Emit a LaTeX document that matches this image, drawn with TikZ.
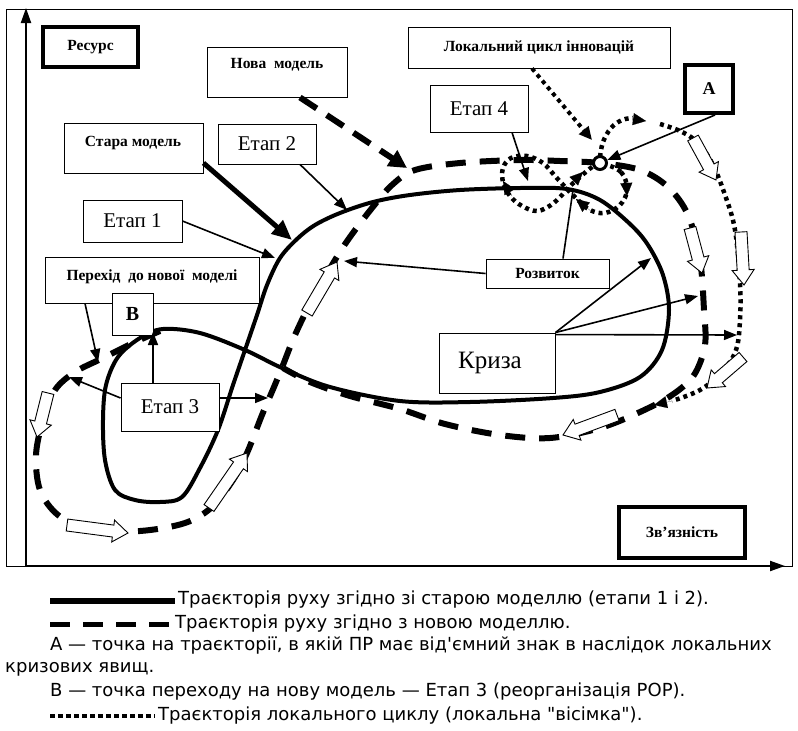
\documentclass[tikz,border=0pt]{standalone}
\usepackage{fontspec}
\setmainfont{Liberation Serif}
\newfontfamily\legfont{DejaVu Sans}
\usetikzlibrary{arrows.meta,calc}

\tikzset{
  box/.style={draw, fill=white, line width=0.9pt, inner sep=0pt, align=center},
  thickbox/.style={box, line width=4pt},
  blab/.style={font=\bfseries\fontsize{15.5}{18}\selectfont},
  etlab/.style={font=\fontsize{21}{24}\selectfont},
  conn/.style={line width=1.6pt, -{Triangle[length=13pt,width=10pt]}},
  solidtraj/.style={line width=4pt, line join=round},
  dashtraj/.style={line width=6pt, dash pattern=on 20pt off 14pt},
  dottraj/.style={line width=4.5pt, dash pattern=on 4pt off 4pt},
  tiphead/.style={line width=0.1pt, -{Triangle[length=13pt,width=12pt]}},
  hollow/.style={draw, fill=white, line width=0.9pt, line join=miter},
  legtext/.style={anchor=west, inner sep=0pt, font=\legfont\fontsize{18}{21}\selectfont},
}

\newcommand\hollowarr[2]{%
  \coordinate (ht) at (#1); \coordinate (hp) at (#2);
  \coordinate (hh) at ($(hp)!15pt!(ht)$);
  \draw[hollow] ($(ht)!6pt!90:(hp)$) -- ($(hh)!6pt!90:(hp)$) -- ($(hh)!11pt!90:(hp)$) -- (hp)
    -- ($(hh)!11pt!-90:(hp)$) -- ($(hh)!6pt!-90:(hp)$) -- ($(ht)!6pt!-90:(hp)$) -- cycle;}

\begin{document}
\begin{tikzpicture}[x=1pt, y=-1pt]
\useasboundingbox (0,0) rectangle (798,731);

% frame and axes
\draw[line width=0.8pt] (6,9) rectangle (792,566);
\coordinate (origin) at (26,566);
\coordinate (ytop) at (26,8);
\coordinate (xend) at (785,566);
\draw[line width=2pt, -{Triangle[length=15pt,width=10pt]}] (origin) -- (ytop);
\draw[line width=2pt, -{Triangle[length=15pt,width=10pt]}] (origin) -- (xend);

% old model trajectory (solid figure eight)
\draw[solidtraj] plot[smooth cycle, tension=0.55] coordinates {
 (163,329) (200,333) (245,350) (282,368) (330,387) (400,401) (470,402) (553,398) (600,392)
 (640,377) (662,350) (669,310) (663,275) (648,245) (630,224) (600,200) (567,189) (520,188)
 (460,190) (410,195) (373,202) (340,213) (315,225) (297,239) (280,258) (267,285) (257,315)
 (245,350) (233,385) (218,430) (200,468) (182,497) (160,502) (135,500) (115,490) (105,460)
 (103,420) (106,385) (118,357) (140,338)};

% new model trajectory (dashed figure eight)
\draw[dashtraj] plot[smooth, tension=0.55] coordinates {
 (160,331) (133,343) (103,358) (75,372) (55,390) (43,420) (36,455) (40,490) (58,515) (90,530)
 (140,531) (185,523) (212,507) (233,480) (247,453) (262,415) (274,387) (283,365) (295,335)
 (312,300) (335,260) (350,237) (372,208) (392,185) (415,170) (460,163) (520,160) (560,161)
 (600,163) (640,170) (668,187) (688,215) (700,260) (704,310) (705,345) (694,375) (672,395)
 (640,412) (600,428) (550,438) (500,435) (445,424) (400,409) (350,396) (310,382) (283,368)};

% local cycle (dotted)
\draw[dottraj] plot[smooth, tension=0.6] coordinates {
 (600,157) (603,142) (611,128) (622,120) (633,118)};
\draw[tiphead] (632,119) -- (646,121);
\draw[dottraj] plot[smooth, tension=0.6] coordinates {
 (660,124) (680,131) (697,142) (712,163) (725,195) (735,230) (740,283) (740,320) (736,350)
 (722,372) (700,390) (672,401)};
\draw[tiphead] (672,401) -- (654,405);
\draw[dottraj] plot[smooth cycle, tension=0.6] coordinates {
 (600,163) (621,172) (627,190) (620,205) (605,213) (590,210) (578,200) (567,189) (555,176)
 (543,163) (527,156) (511,158) (503,168) (503,182) (510,196) (522,206) (537,211) (551,205)
 (562,195) (567,189) (580,177) (592,167)};
\draw[tiphead] (570,185) -- (583,172);
\draw[tiphead] (592,212) -- (576,199);
\draw[tiphead] (626,178) -- (627,196);
\draw[tiphead] (512,196) -- (503,181);

% hollow direction arrows
\hollowarr{67,525}{128,533}
\hollowarr{209,508}{247,453}
\hollowarr{307,313}{337,262}
\hollowarr{48,393}{37,437}
\hollowarr{690,228}{702,273}
\hollowarr{693,138}{716,180}
\hollowarr{741,232}{744,285}
\hollowarr{743,357}{707,388}
\hollowarr{617,415}{563,435}

% boxes
\node[thickbox, blab, minimum width=95pt, minimum height=40pt] (resurs) at (90.5,47) {Ресурс};
\node[box, minimum width=140pt, minimum height=50pt] (nova) at (277,72) {};
\node[blab] at (277,65) {Нова\ \ модель};
\node[box, minimum width=139pt, minimum height=50pt] (stara) at (133.5,148) {};
\node[blab] at (133,143) {Стара модель};
\node[box, etlab, minimum width=98pt, minimum height=40pt] (etap2) at (267,144) {Етап 2};
\node[box, etlab, minimum width=99pt, minimum height=42pt] (etap1) at (132.5,221) {Етап 1};
\node[box, minimum width=214pt, minimum height=46pt] (perehid) at (152,280) {};
\node[blab] at (152,277) {Перехід\ \ до нової\ \ моделі};
\node[box, font=\bfseries\fontsize{20}{22}\selectfont, minimum width=41pt, minimum height=42pt] (bbox) at (132.5,314) {B};
\node[box, etlab, minimum width=98pt, minimum height=48pt] (etap3) at (170,407) {Етап 3};
\node[box, blab, minimum width=262pt, minimum height=41pt] (lokal) at (539,47.5) {Локальний цикл інновацій};
\node[thickbox, font=\bfseries\fontsize{18}{20}\selectfont, minimum width=48pt, minimum height=48pt] (abox) at (709,89) {A};
\node[box, etlab, minimum width=98pt, minimum height=47pt] (etap4) at (479,108.5) {Етап 4};
\node[box, blab, minimum width=123pt, minimum height=29pt] (rozv) at (547.5,273.5) {Розвиток};
\node[box, font=\fontsize{25}{28}\selectfont, minimum width=116pt, minimum height=60pt] (kryza) at (497,363) {\hspace*{-14pt}Криза};
\node[thickbox, blab, minimum width=126pt, minimum height=51pt] (zvyaz) at (682,532.5) {Зв’язність};

% point A
\node[circle, draw, fill=white, line width=3pt, minimum size=13pt, inner sep=0pt] (pA) at (600,163) {};

% connector targets
\coordinate (tst) at (292,240);
\coordinate (te2) at (347,210);
\coordinate (te1) at (275,258);
\coordinate (tnv) at (407,168);
\coordinate (tpe) at (98,362);
\coordinate (tB) at (153,332);
\coordinate (te3l) at (69,377);
\coordinate (te3r) at (268,398);
\coordinate (trl) at (344,261);
\coordinate (tcr) at (573,190);
\coordinate (tk1) at (651,258);
\coordinate (tk2) at (698,296);
\coordinate (tk3) at (737,335);
\coordinate (te4) at (528,181);
\coordinate (tlk) at (592,140);

% connectors
\draw[line width=5pt, -{Triangle[length=20pt,width=17pt]}] ([yshift=-15pt]stara.east) -- (tst);
\draw[conn] ([xshift=33pt]etap2.south) -- (te2);
\draw[conn] (etap1.east) -- (te1);
\draw[line width=6pt, dash pattern=on 20pt off 12pt, -{Triangle[length=18pt,width=18pt]}] ([xshift=23pt]nova.south) -- (tnv);
\draw[conn] ([xshift=-67pt]perehid.south) -- (tpe);
\draw[conn] ([xshift=-17pt]etap3.north) -- (tB);
\draw[conn] ([yshift=9pt]etap3.west) -- (te3l);
\draw[conn] ([yshift=9pt]etap3.east) -- (te3r);
\draw[conn] (rozv.west) -- (trl);
\draw[line width=1.6pt] ([xshift=15.5pt]rozv.north) -- (tcr);
\draw[conn] (kryza.north east) -- (tk1);
\draw[conn] (kryza.north east) -- (tk2);
\draw[conn] ([yshift=-2pt]kryza.north east) -- (tk3);
\draw[conn] ([xshift=6pt]abox.south) -- (pA);
\draw[conn] ([xshift=33pt]etap4.south) -- (te4);
\draw[line width=4pt, dash pattern=on 4pt off 4pt, -{Triangle[length=13pt,width=12pt]}] ([xshift=-7pt]lokal.south) -- (tlk);

% legend
\coordinate (l1a) at (50,601); \coordinate (l1b) at (175,601);
\draw[line width=5.5pt] (l1a) -- (l1b);
\node[legtext] (leg1) at (178,600) {Траєкторія руху згідно зі старою моделлю (етапи 1 і 2).};
\coordinate (l2a) at (50,624); \coordinate (l2b) at (170,624);
\draw[line width=5pt, dash pattern=on 20pt off 13pt] (l2a) -- (l2b);
\node[legtext] (leg2) at (175,624) {Траєкторія руху згідно з новою моделлю.};
\node[legtext] (leg3) at (50,646) {А — точка на траєкторії, в якій ПР має від\textquotesingle ємний знак в наслідок локальних};
\node[legtext] (leg4) at (5,669) {кризових явищ.};
\node[legtext] (leg5) at (50,692) {В — точка переходу на нову модель — Етап 3 (реорганізація РОР).};
\coordinate (l6a) at (50,716); \coordinate (l6b) at (155,716);
\draw[line width=4pt, dash pattern=on 5pt off 3pt] (l6a) -- (l6b);
\node[legtext] (leg6) at (158,716) {Траєкторія локального циклу (локальна "вісімка").};
\end{tikzpicture}
\end{document}
